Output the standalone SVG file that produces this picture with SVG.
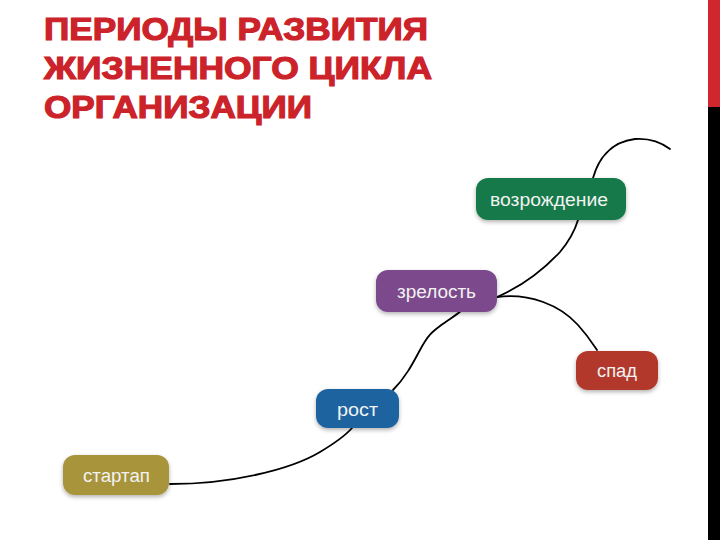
<svg xmlns="http://www.w3.org/2000/svg" width="720" height="540" viewBox="0 0 720 540">
<defs>
<filter id="sh" x="-20%" y="-30%" width="140%" height="170%">
<feDropShadow dx="0" dy="2" stdDeviation="2" flood-color="#000" flood-opacity="0.3"/>
</filter>
<style>
.title{font-family:"Liberation Sans",Arial,sans-serif;font-weight:bold;font-size:32px;fill:#cc2229;stroke:#cc2229;stroke-width:1.2}
.lbl{font-family:"Liberation Sans",Arial,sans-serif;font-size:18px;fill:#f2f2f2}
.conn{fill:none;stroke:#000;stroke-width:1.8;stroke-linecap:round}
.box{filter:url(#sh)}
</style>
</defs>
<rect width="720" height="540" fill="#fff"/>
<rect x="708" y="0" width="12" height="107" fill="#d0262d"/>
<rect x="708" y="107" width="12" height="433" fill="#000"/>
<g id="title">
<text class="title" x="44" y="40" textLength="384" lengthAdjust="spacingAndGlyphs">ПЕРИОДЫ РАЗВИТИЯ</text>
<text class="title" x="44" y="79" textLength="388" lengthAdjust="spacingAndGlyphs">ЖИЗНЕННОГО ЦИКЛА</text>
<text class="title" x="44" y="118" textLength="268" lengthAdjust="spacingAndGlyphs">ОРГАНИЗАЦИИ</text>
</g>
<g id="connectors">
<path class="conn" d="M170 484 C230 484 290 470 320 452 C335 443 345 436 352 428"/>
<path class="conn" d="M393 390 C405 378 412 365 420 350 C428 335 432 332 440 326 C448 320 455 316 461 311"/>
<path class="conn" d="M497 297 C525 285 545 268 560 252 C570 240 575 230 578 220"/>
<path class="conn" d="M497 297 C530 293 560 305 578 325 C588 336 593 344 597 350"/>
<path class="conn" d="M593 178 C598 160 610 142 635 139 C650 138 662 143 670 149"/>
</g>
<g id="vozrozhdenie">
<rect class="box" x="476" y="178" width="150" height="42" rx="12" fill="#17794a"/>
<text class="lbl" x="490" y="206" textLength="118" lengthAdjust="spacingAndGlyphs">возрождение</text>
</g>
<g id="zrelost">
<rect class="box" x="376" y="270" width="121" height="42" rx="12" fill="#7b4a8c"/>
<text class="lbl" x="397" y="298" textLength="79" lengthAdjust="spacingAndGlyphs">зрелость</text>
</g>
<g id="spad">
<rect class="box" x="576" y="351" width="82" height="39" rx="12" fill="#b1392a"/>
<text class="lbl" x="597" y="377" textLength="40" lengthAdjust="spacingAndGlyphs">спад</text>
</g>
<g id="rost">
<rect class="box" x="316" y="389" width="83" height="39" rx="12" fill="#1f64a0"/>
<text class="lbl" x="337" y="416" textLength="41" lengthAdjust="spacingAndGlyphs">рост</text>
</g>
<g id="startap">
<rect class="box" x="63" y="455" width="106" height="40" rx="12" fill="#a8953a"/>
<text class="lbl" x="83" y="482" textLength="67" lengthAdjust="spacingAndGlyphs">стартап</text>
</g>
</svg>
